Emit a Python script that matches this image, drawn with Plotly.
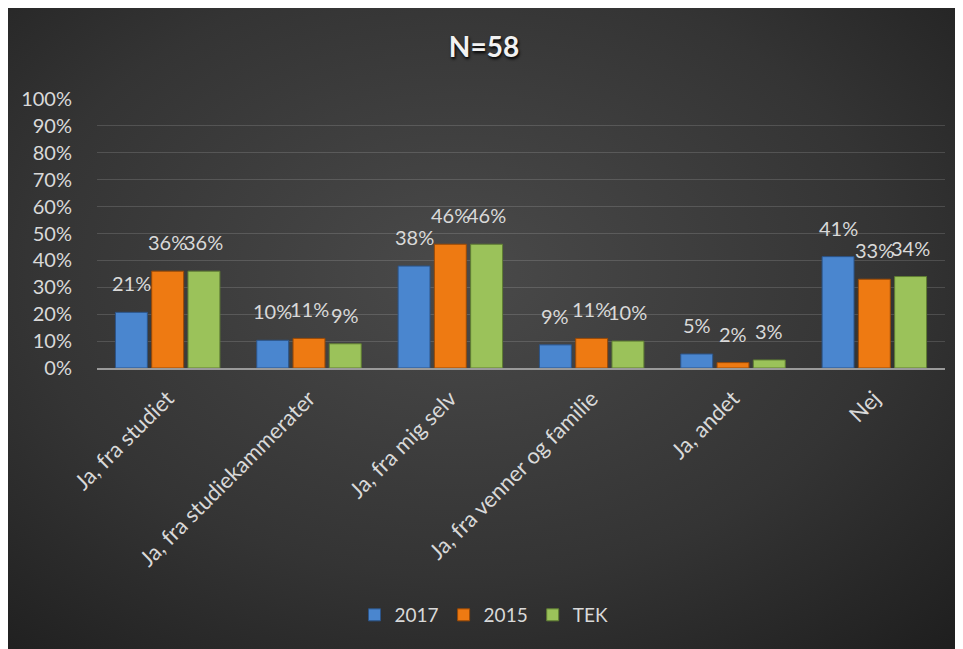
import base64
import plotly.graph_objects as go

categories = ["Ja, fra studiet", "Ja, fra studiekammerater", "Ja, fra mig selv",
              "Ja, fra venner og familie", "Ja, andet", "Nej"]
v2017 = [0.207, 0.103, 0.379, 0.086, 0.052, 0.414]
v2015 = [0.36, 0.11, 0.46, 0.11, 0.02, 0.33]
vTEK = [0.36, 0.09, 0.46, 0.10, 0.03, 0.34]
series_names = ["2017", "2015", "TEK"]
series_colors = ["#4a86cf", "#ee7a12", "#9bc25a"]
line_colors = ["#2c5488", "#9a4a06", "#5f7d33"]
y_ticks = [i / 10 for i in range(11)]

# page is rendered with an 8px body offset; positions below are in figure coords
W, H = 963, 649
L, R, T, B = 89, 26, 91, 289
pw, ph = W - L - R, H - T - B
BARGAP = 0.23
slot = pw / len(categories) * (1 - BARGAP) / len(series_names)

svg = """<svg xmlns='http://www.w3.org/2000/svg' width='1000' height='700' viewBox='0 0 1000 700' preserveAspectRatio='none'>
<defs><radialGradient id='g' cx='0.45' cy='0.38' r='0.72' gradientUnits='objectBoundingBox'>
<stop offset='0' stop-color='#4a4a4a'/><stop offset='0.6' stop-color='#343434'/><stop offset='1' stop-color='#1f1f1f'/></radialGradient></defs>
<rect width='1000' height='700' fill='url(#g)'/></svg>"""
src = "data:image/svg+xml;base64," + base64.b64encode(svg.encode()).decode()

fig = go.Figure()
annotations = []
all_vals = [v2017, v2015, vTEK]
for k, (name, vals, c, lc) in enumerate(zip(series_names, all_vals, series_colors, line_colors)):
    fig.add_trace(go.Bar(
        x=categories, y=vals, name=name,
        marker=dict(color=c, line=dict(color=lc, width=1)),
    ))
    for cat, v in zip(categories, vals):
        annotations.append(dict(
            x=cat, y=v, xref="x", yref="y", text=f"{v:.0%}", showarrow=False,
            xanchor="center", yanchor="bottom", xshift=(k - 1) * slot, yshift=15,
            font=dict(color="#d9d9d9", size=20, family="Lato"),
        ))

fig.update_layout(
    width=W, height=H,
    margin=dict(l=L, r=R, t=T, b=B),
    paper_bgcolor="#2a2a2a",
    plot_bgcolor="rgba(0,0,0,0)",
    font=dict(family="Lato", color="#d9d9d9"),
    barmode="group", bargap=BARGAP, bargroupgap=0.12,
    title=dict(text="<b>N=58</b>", x=(484 - 8) / W, xref="container", xanchor="center",
               y=1 - 39 / H, yref="container", yanchor="middle",
               font=dict(size=28, color="#f2f2f2", family="Lato",
                         shadow="1px 2px 3px #000")),
    xaxis=dict(tickangle=-45, tickfont=dict(size=22, color="#d9d9d9"),
               showline=True, linecolor="#9a9a9a", linewidth=2,
               ticks="outside", ticklen=7, tickcolor="rgba(0,0,0,0)",
               showgrid=False, fixedrange=True),
    yaxis=dict(range=[0, 1], tickvals=y_ticks, tickformat=".0%",
               tickfont=dict(size=20, color="#d9d9d9"),
               showgrid=True, gridcolor="rgba(255,255,255,0.14)", gridwidth=1,
               zeroline=False, showline=False,
               ticks="outside", ticklen=20, tickcolor="rgba(0,0,0,0)"),
    legend=dict(orientation="h", x=(476 - L) / pw, xanchor="center",
                y=(T + ph - 607) / ph, yanchor="middle",
                font=dict(size=19, color="#d9d9d9"), bgcolor="rgba(0,0,0,0)",
                itemwidth=30, traceorder="normal"),
    annotations=annotations,
    images=[dict(source=src, xref="paper", yref="paper",
                 x=-L / pw, y=(T + ph) / ph,
                 sizex=1000 / pw, sizey=700 / ph,
                 xanchor="left", yanchor="top", sizing="stretch", layer="below")],
    showlegend=True,
)

fig.write_html("out.html")
